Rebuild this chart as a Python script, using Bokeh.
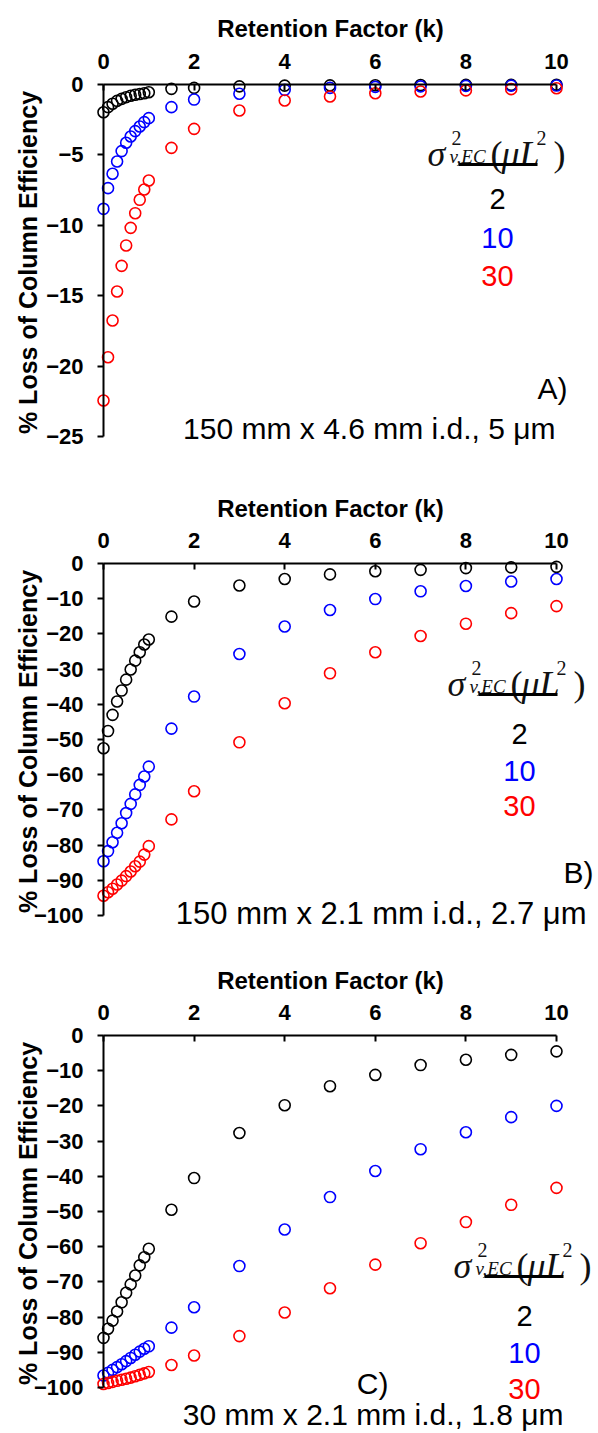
from math import pi
from bokeh.plotting import figure
from bokeh.models import Label, BoxAnnotation, FixedTicker
from bokeh.layouts import column
from bokeh.embed import file_html
from bokeh.resources import INLINE

# ---------------- data ----------------
k = [0, 0.1, 0.2, 0.3, 0.4, 0.5, 0.6, 0.7, 0.8, 0.9, 1.0, 1.5, 2, 3, 4, 5, 6, 7, 8, 9, 10]

a_2 = [-1.97, -1.61, -1.37, -1.16, -1.02, -0.9, -0.8, -0.73, -0.68, -0.62, -0.55,
       -0.31, -0.24, -0.13, -0.08, -0.06, -0.05, -0.04, -0.03, -0.03, -0.02]
a_10 = [-8.83, -7.36, -6.34, -5.47, -4.73, -4.14, -3.69, -3.31, -2.98, -2.67, -2.39,
        -1.61, -1.07, -0.66, -0.38, -0.24, -0.17, -0.13, -0.1, -0.08, -0.07]
a_30 = [-22.44, -19.37, -16.76, -14.7, -12.88, -11.43, -10.18, -9.14, -8.19, -7.46, -6.82,
        -4.5, -3.15, -1.85, -1.14, -0.85, -0.62, -0.5, -0.42, -0.33, -0.27]

b_2 = [-52.5, -47.6, -43.0, -39.2, -36.1, -33.0, -30.1, -27.6, -25.2, -23.0, -21.6,
       -15.1, -10.8, -6.25, -4.4, -3.1, -2.2, -1.8, -1.3, -1.1, -0.95]
b_10 = [-84.6, -81.7, -79.2, -76.5, -73.8, -70.9, -68.3, -65.6, -62.9, -60.5, -57.7,
        -46.9, -37.8, -25.7, -17.9, -13.2, -10.1, -7.9, -6.4, -5.1, -4.4]
b_30 = [-94.4, -93.4, -92.4, -91.2, -90.1, -88.8, -87.5, -86.0, -84.7, -82.7, -80.3,
        -72.7, -64.7, -50.8, -39.7, -31.2, -25.2, -20.6, -17.1, -14.1, -12.1]

c_2 = [-85.9, -83.3, -81.0, -78.4, -75.8, -73.1, -70.7, -68.2, -65.3, -63.0, -60.6,
       -49.5, -40.5, -27.7, -19.8, -14.4, -11.2, -8.4, -6.9, -5.5, -4.5]
c_10 = [-96.6, -95.8, -95.0, -94.2, -93.4, -92.5, -91.6, -90.7, -89.8, -89.0, -88.3,
        -83.0, -77.2, -65.5, -55.1, -45.9, -38.5, -32.3, -27.5, -23.2, -20.0]
c_30 = [-99.0, -98.7, -98.4, -98.1, -97.8, -97.5, -97.2, -96.8, -96.4, -96.0, -95.6,
        -93.6, -90.9, -85.4, -78.7, -71.8, -65.1, -59.0, -53.0, -48.1, -43.3]

x_ticks = [0, 2, 4, 6, 8, 10]
a_yticks = [-25, -20, -15, -10, -5, 0]
bc_yticks = [-100, -90, -80, -70, -60, -50, -40, -30, -20, -10, 0]

legend_values = ["2", "10", "30"]
colors = ["#000000", "#0000FF", "#FF0000"]
x_title = "Retention Factor (k)"
y_title = "% Loss of Column Efficiency"
captions = ["150 mm x 4.6 mm i.d., 5 μm", "150 mm x 2.1 mm i.d., 2.7 μm", "30 mm x 2.1 mm i.d., 1.8 μm"]
letters = ["A)", "B)", "C)"]

# ---------------- layout (pixel geometry of the page) ----------------
SANS = "Liberation Sans"
SERIF = "Liberation Serif"
W = 598
XPX0, XPX10 = 103, 556          # page x of k=0 and k=10
XS = (XPX10 - XPX0) / 10.0       # px per unit of k
X0 = -XPX0 / XS
X1 = (W - XPX0) / XS

panels = [
    dict(series=(a_2, a_10, a_30), yticks=a_yticks, top=0, h=470, axis_y=84, ymin=-25, ymin_px=436,
         title_base=28, ytitle_c=262,
         leg=(427, 153), nums_x=497, nums_base=(198, 237, 275),
         letter=(567, 388), cap=(555, 428), cap_fs="30px"),
    dict(series=(b_2, b_10, b_30), yticks=bc_yticks, top=470, h=477, axis_y=563, ymin=-100, ymin_px=915,
         title_base=508, ytitle_c=741,
         leg=(447, 683), nums_x=519, nums_base=(733, 770, 805),
         letter=(593, 872), cap=(586, 913), cap_fs="31px"),
    dict(series=(c_2, c_10, c_30), yticks=bc_yticks, top=947, h=486, axis_y=1035, ymin=-100, ymin_px=1387,
         title_base=980, ytitle_c=1213,
         leg=(453, 1265), nums_x=524, nums_base=(1315, 1352, 1388),
         letter=(388, 1383), cap=(563, 1414), cap_fs="30px"),
]


def make_panel(i, cfg):
    ys = (cfg["ymin_px"] - cfg["axis_y"]) / (-cfg["ymin"])   # px per unit of y
    Y1 = (cfg["axis_y"] - cfg["top"]) / ys
    Y0 = -(cfg["top"] + cfg["h"] - cfg["axis_y"]) / ys

    def dx(px):
        return (px - XPX0) / XS

    def dy(py):
        return -(py - cfg["axis_y"]) / ys

    p = figure(width=W, height=cfg["h"], x_range=(X0, X1), y_range=(Y0, Y1),
               x_axis_location="above", output_backend="svg", toolbar_location=None,
               min_border=0, min_border_left=0, min_border_right=0,
               min_border_top=0, min_border_bottom=0)
    p.outline_line_color = None
    p.xgrid.visible = False
    p.ygrid.visible = False
    p.background_fill_color = "white"
    p.border_fill_color = "white"

    for vals, c in zip(cfg["series"], colors):
        p.scatter(k, vals, marker="circle", size=11, fill_color=None,
                  line_color=c, line_width=1.6)

    xa = p.xaxis[0]
    xa.ticker = FixedTicker(ticks=x_ticks)
    xa.fixed_location = 0
    xa.bounds = (0, 10)
    xa.axis_line_width = 2
    xa.axis_line_color = "black"
    xa.major_tick_in = 6
    xa.major_tick_out = 0
    xa.major_tick_line_width = 2
    xa.minor_tick_line_color = None
    xa.major_label_text_font = SANS
    xa.major_label_text_font_style = "bold"
    xa.major_label_text_font_size = "22px"
    xa.major_label_text_color = "black"
    xa.major_label_standoff = 16

    ya = p.yaxis[0]
    ya.ticker = FixedTicker(ticks=cfg["yticks"])
    ya.fixed_location = 0
    ya.bounds = (cfg["ymin"], 0)
    ya.axis_line_width = 2
    ya.axis_line_color = "black"
    ya.major_tick_in = 0
    ya.major_tick_out = 6
    ya.major_tick_line_width = 2
    ya.minor_tick_line_color = None
    ya.major_label_text_font = SANS
    ya.major_label_text_font_style = "bold"
    ya.major_label_text_font_size = "22px"
    ya.major_label_text_color = "black"
    ya.major_label_standoff = 14

    # axis titles
    p.add_layout(Label(x=dx(330), y=dy(cfg["title_base"]), text=x_title, text_font=SANS,
                       text_font_style="bold", text_font_size="24px", text_color="black",
                       text_align="center", text_baseline="alphabetic"))
    p.add_layout(Label(x=dx(27), y=dy(cfg["ytitle_c"]), text=y_title, text_font=SANS,
                       text_font_style="bold", text_font_size="25px", text_color="black",
                       angle=pi / 2, text_align="center", text_baseline="middle"))

    # legend header sigma^2_{v,EC}(muL^2)
    lx, lb = cfg["leg"]
    pieces = [("σ", 0, 0, "36px", "italic"),
              ("2", 24, -16, "20px", "normal"),
              ("v,EC", 22, 3, "19px", "italic"),
              ("(", 63, 0, "36px", "normal"),
              ("μL", 74, 0, "36px", "italic"),
              ("2", 109, -16, "20px", "normal"),
              (")", 126, 0, "36px", "normal")]
    for txt, ox, oy, fs, st in pieces:
        p.add_layout(Label(x=dx(lx + ox), y=dy(lb + oy), text=txt, text_font=SERIF,
                           text_font_size=fs, text_font_style=st, text_color="#111111",
                           text_align="left", text_baseline="alphabetic"))
    p.add_layout(BoxAnnotation(left=dx(lx + 31), right=dx(lx + 110),
                               top=dy(lb + 9.5), bottom=dy(lb + 12.5),
                               fill_color="black", fill_alpha=1.0, line_color=None))
    for txt, c, base in zip(legend_values, colors, cfg["nums_base"]):
        p.add_layout(Label(x=dx(cfg["nums_x"]), y=dy(base), text=txt, text_font=SANS,
                           text_font_size="29px", text_color=c,
                           text_align="center", text_baseline="alphabetic"))

    # panel letter and caption
    p.add_layout(Label(x=dx(cfg["letter"][0]), y=dy(cfg["letter"][1]), text=letters[i],
                       text_font=SANS, text_font_size="30px", text_color="black",
                       text_align="right", text_baseline="alphabetic"))
    p.add_layout(Label(x=dx(cfg["cap"][0]), y=dy(cfg["cap"][1]), text=captions[i],
                       text_font=SANS, text_font_size=cfg["cap_fs"], text_color="black",
                       text_align="right", text_baseline="alphabetic"))
    return p


figs = [make_panel(i, cfg) for i, cfg in enumerate(panels)]
layout = column(*figs, spacing=0)
open("out.html", "w").write(file_html(layout, INLINE))
